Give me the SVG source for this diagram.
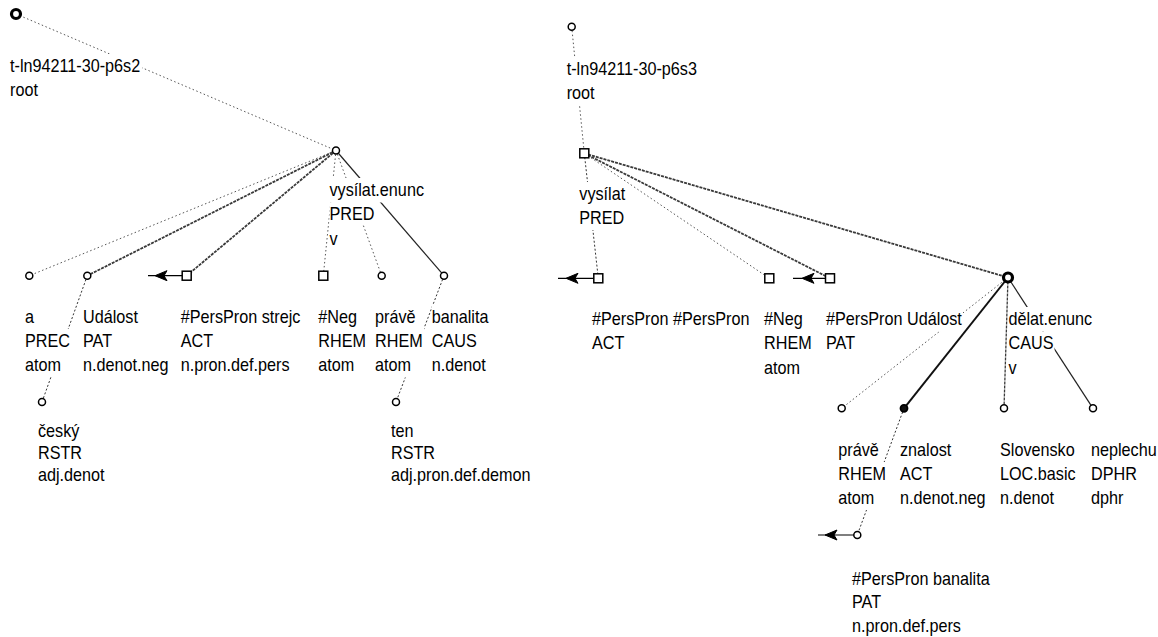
<svg xmlns="http://www.w3.org/2000/svg" width="1158" height="637" viewBox="0 0 1158 637">
  <style>
    .lbl { font-family: "Liberation Sans", Arial, sans-serif; font-size: 18px; fill: #000; }
    .bg { fill: #fff; }
    .nd { fill: #fff; stroke: #000; stroke-width: 1.5; }
    .nd-bold { fill: #fff; stroke: #000; stroke-width: 3.2; }
    .nd-fill { fill: #111; stroke: #000; stroke-width: 1.8; }
    .dot { fill: none; stroke: #555; stroke-width: 1; stroke-dasharray: 1.5 2.5; }
    .dotd { fill: none; stroke: #333; stroke-width: 1; stroke-dasharray: 2 2; }
    .hatch { fill: none; stroke: #3a3a3a; stroke-width: 1.8; stroke-dasharray: 3 1; }
    .solid { fill: none; stroke: #222; stroke-width: 1.2; }
    .thick { fill: none; stroke: #111; stroke-width: 2; }
    .coref { fill: none; stroke: #000; stroke-width: 1.2; }
    .head { fill: #000; stroke: #000; stroke-width: 1; }
  </style>

  <!-- edges of both trees -->
  <g id="connectors">
    <!-- left tree -->
    <line class="dot" x1="16" y1="14" x2="336" y2="150.5"/>
    <line class="dot" x1="336" y1="150.5" x2="29.3" y2="275.7"/>
    <line class="hatch" x1="336" y1="150.5" x2="87.3" y2="275.7"/>
    <line class="hatch" x1="336" y1="150.5" x2="186.7" y2="275.7"/>
    <line class="dot" x1="336" y1="150.5" x2="323.3" y2="275.7"/>
    <line class="dot" x1="336" y1="150.5" x2="381.7" y2="275.7"/>
    <line class="solid" x1="336" y1="150.5" x2="444" y2="275.7"/>
    <line class="dotd" x1="87.3" y1="275.7" x2="42" y2="402"/>
    <line class="dotd" x1="444" y1="275.7" x2="396" y2="402"/>
    <!-- right tree -->
    <line class="dot" x1="571.7" y1="26.7" x2="584.3" y2="153.3"/>
    <line class="dotd" x1="584.3" y1="153.3" x2="598.3" y2="278.3"/>
    <line class="dot" x1="584.3" y1="153.3" x2="769.3" y2="278.3"/>
    <line class="hatch" x1="584.3" y1="153.3" x2="830" y2="278.3"/>
    <line class="hatch" x1="584.3" y1="153.3" x2="1008" y2="277.5"/>
    <line class="dot" x1="1008" y1="277.5" x2="841.7" y2="408.3"/>
    <line class="thick" x1="1008" y1="277.5" x2="904" y2="408.3"/>
    <line class="hatch" x1="1008" y1="277.5" x2="1004" y2="408.3" style="stroke-width:1.3"/>
    <line class="solid" x1="1008" y1="277.5" x2="1093" y2="408.3"/>
    <line class="dotd" x1="904" y1="408.3" x2="857.3" y2="535"/>
    <!-- coreference stubs -->
    <line class="coref" x1="148" y1="275.7" x2="182" y2="275.7"/>
    <path class="head" d="M155 275.7 L167 270.7 L164 275.7 L167 280.7 Z"/>
    <line class="coref" x1="558" y1="278.3" x2="594" y2="278.3"/>
    <path class="head" d="M566 278.3 L578 273.3 L575 278.3 L578 283.3 Z"/>
    <line class="coref" x1="793" y1="278.3" x2="825.5" y2="278.3"/>
    <path class="head" d="M802 278.3 L814 273.3 L811 278.3 L814 283.3 Z"/>
    <line class="coref" x1="818" y1="535" x2="854" y2="535"/>
    <path class="head" d="M825 535 L837 530 L834 535 L837 540 Z"/>
  </g>

  <!-- left tree nodes -->
  <g id="rootL">
    <rect class="bg" x="10" y="54" width="132" height="48"/>
    <text class="lbl" transform="translate(10 72) scale(.9 1)"><tspan x="0" y="0">t-ln94211-30-p6s2</tspan><tspan x="0" y="24.5">root</tspan></text>
    <circle class="nd-bold" cx="16" cy="14" r="4.5"/>
  </g>
  <g id="vysilatL">
    <rect class="bg" x="329.5" y="178" width="96" height="24.5"/>
    <rect class="bg" x="329.5" y="202.5" width="46" height="22"/>
    <rect class="bg" x="329.5" y="229" width="9" height="21"/>
    <text class="lbl" transform="translate(329.5 196) scale(.9 1)"><tspan x="0" y="0">vysílat.enunc</tspan><tspan x="0" y="24.5">PRED</tspan><tspan x="0" y="49">v</tspan></text>
    <circle class="nd" cx="336" cy="150.5" r="3.5"/>
  </g>
  <g id="aL">
    <rect class="bg" x="25" y="304.5" width="10" height="24.5"/>
    <rect class="bg" x="25" y="329" width="46" height="48"/>
    <text class="lbl" transform="translate(25 322.5) scale(.9 1)"><tspan x="0" y="0">a</tspan><tspan x="0" y="24.5">PREC</tspan><tspan x="0" y="49">atom</tspan></text>
    <circle class="nd" cx="29.3" cy="275.7" r="3.5"/>
  </g>
  <g id="udalostL">
    <rect class="bg" x="83" y="304.5" width="87" height="73"/>
    <text class="lbl" transform="translate(83 322.5) scale(.9 1)"><tspan x="0" y="0">Událost</tspan><tspan x="0" y="24.5">PAT</tspan><tspan x="0" y="49">n.denot.neg</tspan></text>
    <circle class="nd" cx="87.3" cy="275.7" r="3.5"/>
  </g>
  <g id="persL">
    <rect class="bg" x="180.7" y="304.5" width="121" height="73"/>
    <text class="lbl" transform="translate(180.7 322.5) scale(.9 1)"><tspan x="0" y="0">#PersPron strejc</tspan><tspan x="0" y="24.5">ACT</tspan><tspan x="0" y="49">n.pron.def.pers</tspan></text>
    <rect class="nd" x="182.2" y="271.2" width="9" height="9"/>
  </g>
  <g id="negL">
    <rect class="bg" x="318.3" y="304.5" width="49" height="73"/>
    <text class="lbl" transform="translate(318.3 322.5) scale(.9 1)"><tspan x="0" y="0">#Neg</tspan><tspan x="0" y="24.5">RHEM</tspan><tspan x="0" y="49">atom</tspan></text>
    <rect class="nd" x="318.8" y="271.2" width="9" height="9"/>
  </g>
  <g id="praveL">
    <rect class="bg" x="375" y="304.5" width="49" height="73"/>
    <text class="lbl" transform="translate(375 322.5) scale(.9 1)"><tspan x="0" y="0">právě</tspan><tspan x="0" y="24.5">RHEM</tspan><tspan x="0" y="49">atom</tspan></text>
    <circle class="nd" cx="381.7" cy="275.7" r="3.5"/>
  </g>
  <g id="banalitaL">
    <rect class="bg" x="431.7" y="304.5" width="58" height="73"/>
    <text class="lbl" transform="translate(431.7 322.5) scale(.9 1)"><tspan x="0" y="0">banalita</tspan><tspan x="0" y="24.5">CAUS</tspan><tspan x="0" y="49">n.denot</tspan></text>
    <circle class="nd" cx="444" cy="275.7" r="3.5"/>
  </g>
  <g id="ceskyL">
    <rect class="bg" x="38" y="420" width="68" height="66"/>
    <text class="lbl" transform="translate(38 437) scale(.9 1)"><tspan x="0" y="0">český</tspan><tspan x="0" y="22">RSTR</tspan><tspan x="0" y="44">adj.denot</tspan></text>
    <circle class="nd" cx="42" cy="402" r="3.5"/>
  </g>
  <g id="tenL">
    <rect class="bg" x="391" y="420" width="141" height="66"/>
    <text class="lbl" transform="translate(391 437) scale(.9 1)"><tspan x="0" y="0">ten</tspan><tspan x="0" y="22">RSTR</tspan><tspan x="0" y="44">adj.pron.def.demon</tspan></text>
    <circle class="nd" cx="396" cy="402" r="3.5"/>
  </g>

  <!-- right tree nodes -->
  <g id="rootR">
    <rect class="bg" x="566.7" y="57" width="132" height="48"/>
    <text class="lbl" transform="translate(566.7 75) scale(.9 1)"><tspan x="0" y="0">t-ln94211-30-p6s3</tspan><tspan x="0" y="24.5">root</tspan></text>
    <circle class="nd" cx="571.7" cy="26.7" r="3.5"/>
  </g>
  <g id="vysilatR">
    <rect class="bg" x="579.3" y="182" width="47" height="48"/>
    <text class="lbl" transform="translate(579.3 200) scale(.9 1)"><tspan x="0" y="0">vysílat</tspan><tspan x="0" y="24.5">PRED</tspan></text>
    <rect class="nd" x="579.8" y="148.8" width="9" height="9"/>
  </g>
  <g id="persR1">
    <rect class="bg" x="592" y="307" width="159" height="48"/>
    <text class="lbl" transform="translate(592 325) scale(.9 1)"><tspan x="0" y="0">#PersPron #PersPron</tspan><tspan x="0" y="24.5">ACT</tspan></text>
    <rect class="nd" x="593.8" y="273.8" width="9" height="9"/>
  </g>
  <g id="negR">
    <rect class="bg" x="764" y="307" width="49" height="73"/>
    <text class="lbl" transform="translate(764 325) scale(.9 1)"><tspan x="0" y="0">#Neg</tspan><tspan x="0" y="24.5">RHEM</tspan><tspan x="0" y="49">atom</tspan></text>
    <rect class="nd" x="764.8" y="273.8" width="9" height="9"/>
  </g>
  <g id="persR2">
    <rect class="bg" x="826" y="307" width="137" height="24.5"/>
    <rect class="bg" x="826" y="331.5" width="33" height="23.5"/>
    <text class="lbl" transform="translate(826 325) scale(.9 1)"><tspan x="0" y="0">#PersPron Událost</tspan><tspan x="0" y="24.5">PAT</tspan></text>
    <rect class="nd" x="825.5" y="273.8" width="9" height="9"/>
  </g>
  <g id="delatR">
    <rect class="bg" x="1008.5" y="307" width="85" height="24.5"/>
    <rect class="bg" x="1008.5" y="331.5" width="46" height="24.5"/>
    <rect class="bg" x="1008.5" y="356" width="9" height="23"/>
    <text class="lbl" transform="translate(1008.5 325) scale(.9 1)"><tspan x="0" y="0">dělat.enunc</tspan><tspan x="0" y="24.5">CAUS</tspan><tspan x="0" y="49">v</tspan></text>
    <circle class="nd-bold" cx="1008" cy="277.5" r="4.5"/>
  </g>
  <g id="praveR">
    <rect class="bg" x="838.3" y="437.5" width="42" height="24.5"/>
    <rect class="bg" x="838.3" y="462" width="49" height="48"/>
    <text class="lbl" transform="translate(838.3 455.5) scale(.9 1)"><tspan x="0" y="0">právě</tspan><tspan x="0" y="24.5">RHEM</tspan><tspan x="0" y="49">atom</tspan></text>
    <circle class="nd" cx="841.7" cy="408.3" r="3.5"/>
  </g>
  <g id="znalostR">
    <rect class="bg" x="900" y="437.5" width="87" height="73"/>
    <text class="lbl" transform="translate(900 455.5) scale(.9 1)"><tspan x="0" y="0">znalost</tspan><tspan x="0" y="24.5">ACT</tspan><tspan x="0" y="49">n.denot.neg</tspan></text>
    <circle class="nd-fill" cx="904" cy="408.3" r="3.5"/>
  </g>
  <g id="slovenskoR">
    <rect class="bg" x="1000" y="437.5" width="77" height="73"/>
    <text class="lbl" transform="translate(1000 455.5) scale(.9 1)"><tspan x="0" y="0">Slovensko</tspan><tspan x="0" y="24.5">LOC.basic</tspan><tspan x="0" y="49">n.denot</tspan></text>
    <circle class="nd" cx="1004" cy="408.3" r="3.5"/>
  </g>
  <g id="neplechuR">
    <rect class="bg" x="1091" y="437.5" width="67" height="73"/>
    <text class="lbl" transform="translate(1091 455.5) scale(.9 1)"><tspan x="0" y="0">neplechu</tspan><tspan x="0" y="24.5">DPHR</tspan><tspan x="0" y="49">dphr</tspan></text>
    <circle class="nd" cx="1093" cy="408.3" r="3.5"/>
  </g>
  <g id="persR3">
    <rect class="bg" x="852" y="566" width="140" height="71"/>
    <text class="lbl" transform="translate(852 585) scale(.9 1)"><tspan x="0" y="0">#PersPron banalita</tspan><tspan x="0" y="23.5">PAT</tspan><tspan x="0" y="47">n.pron.def.pers</tspan></text>
    <circle class="nd" cx="857.3" cy="535" r="3.5"/>
  </g>
</svg>
